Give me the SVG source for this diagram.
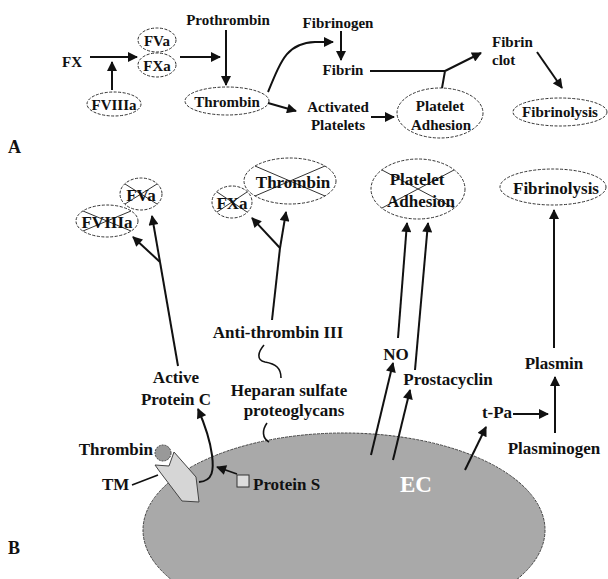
<svg xmlns="http://www.w3.org/2000/svg" width="608" height="579" viewBox="0 0 608 579">
<style>
text{font-family:"Liberation Serif","Times New Roman",serif;font-weight:bold;fill:#111}
.a{font-size:15px}
.b{font-size:17px}
.m{text-anchor:middle}
.ov{fill:#fff;stroke:#333;stroke-width:1;stroke-dasharray:3 1.5}
.x{stroke:#333;stroke-width:1}
.c{fill:none;stroke:#111;stroke-width:2}
.ar{marker-end:url(#ah)}
</style>
<defs>
<marker id="ah" viewBox="0 0 10 10" refX="9" refY="5" markerWidth="11" markerHeight="10" markerUnits="userSpaceOnUse" orient="auto">
<path d="M0,0 L10,5 L0,10 z" fill="#111"/>
</marker>
</defs>
<rect width="608" height="579" fill="#fff"/>

<!-- Panel A nodes -->
<g id="a-fx"><text class="a" x="62" y="67">FX</text></g>
<g id="a-fva"><ellipse class="ov" cx="157" cy="40" rx="19" ry="12"/><text class="a m" x="157" y="46">FVa</text></g>
<g id="a-fxa"><ellipse class="ov" cx="157" cy="65" rx="19" ry="12"/><text class="a m" x="157" y="71">FXa</text></g>
<g id="a-fviiia"><ellipse class="ov" cx="114" cy="104" rx="27" ry="12"/><text class="a m" x="114" y="110">FVIIIa</text></g>
<g id="a-prothrombin"><text class="a m" x="228" y="25">Prothrombin</text></g>
<g id="a-thrombin"><ellipse class="ov" cx="227" cy="101" rx="42" ry="14"/><text class="a m" x="227" y="107">Thrombin</text></g>
<g id="a-fibrinogen"><text class="a m" x="338" y="28">Fibrinogen</text></g>
<g id="a-fibrin"><text class="a m" x="343" y="75">Fibrin</text></g>
<g id="a-activated"><text class="a m" x="338" y="112">Activated</text><text class="a m" x="338" y="130">Platelets</text></g>
<g id="a-platelet"><ellipse class="ov" cx="440" cy="113" rx="43" ry="25"/><text class="a m" x="440" y="111">Platelet</text><text class="a m" x="441" y="130">Adhesion</text></g>
<g id="a-clot"><text class="a" x="492" y="47">Fibrin</text><text class="a" x="492" y="65">clot</text></g>
<g id="a-fibrinolysis"><ellipse class="ov" cx="560" cy="112" rx="47" ry="14"/><text class="a m" x="560" y="117">Fibrinolysis</text></g>
<text x="8" y="153" style="font-size:18px">A</text>

<!-- Panel B: EC cell -->
<g id="b-ec">
<ellipse cx="344" cy="530" rx="201" ry="97" fill="#a9a9a9" stroke="#444" stroke-width="1" stroke-dasharray="3 1"/>
<text x="416" y="492" class="m" style="font-size:23px;fill:#fff">EC</text>
</g>

<!-- Panel B nodes -->
<g id="b-fva"><ellipse class="ov" cx="141" cy="194" rx="21" ry="16"/><line class="x" x1="125" y1="184" x2="157" y2="204"/><line class="x" x1="125" y1="204" x2="157" y2="184"/><text class="b m" x="141" y="201">FVa</text></g>
<g id="b-fviiia"><ellipse class="ov" cx="107" cy="221" rx="31" ry="16"/><line class="x" x1="83" y1="211" x2="131" y2="231"/><line class="x" x1="83" y1="231" x2="131" y2="211"/><text class="b m" x="107" y="228">FVIIIa</text></g>
<g id="b-fxa"><ellipse class="ov" cx="232" cy="202" rx="20" ry="16"/><line class="x" x1="217" y1="192" x2="247" y2="212"/><line class="x" x1="217" y1="212" x2="247" y2="192"/><text class="b m" x="232" y="209">FXa</text></g>
<g id="b-thrombin"><ellipse class="ov" cx="290" cy="181" rx="46" ry="23"/><line class="x" x1="255" y1="166" x2="325" y2="196"/><line class="x" x1="255" y1="196" x2="325" y2="166"/><text class="b m" x="293" y="188">Thrombin</text></g>
<g id="b-platelet"><ellipse class="ov" cx="418" cy="189" rx="47" ry="30"/><line class="x" x1="382" y1="170" x2="454" y2="208"/><line class="x" x1="382" y1="208" x2="454" y2="170"/><text class="b m" x="417" y="185">Platelet</text><text class="b m" x="421" y="207">Adhesion</text></g>
<g id="b-fibrinolysis"><ellipse class="ov" cx="553" cy="187" rx="53" ry="18"/><text class="b m" x="556" y="194">Fibrinolysis</text></g>
<g id="b-antithrombin"><text class="b m" x="278" y="338">Anti-thrombin III</text></g>
<g id="b-heparan"><text class="b m" x="289" y="396">Heparan sulfate</text><text class="b m" x="294" y="416">proteoglycans</text></g>
<g id="b-apc"><text class="b m" x="176" y="383">Active</text><text class="b m" x="176" y="405">Protein C</text></g>
<g id="b-no"><text class="b m" x="396" y="360">NO</text></g>
<g id="b-prostacyclin"><text class="b m" x="448" y="385">Prostacyclin</text></g>
<g id="b-tpa"><text class="b m" x="497" y="418">t-Pa</text></g>
<g id="b-plasmin"><text class="b m" x="554" y="369">Plasmin</text></g>
<g id="b-plasminogen"><text class="b m" x="554" y="454">Plasminogen</text></g>
<g id="b-thrombin2"><circle cx="163" cy="453" r="8" fill="#999" stroke="#444" stroke-width="1" stroke-dasharray="2 1"/><text class="b" x="153" y="455" text-anchor="end">Thrombin</text></g>
<g id="b-tm"><polygon points="155,465 169,466 174,452 196,477 199,502 182,501 160,472" fill="#d6d6d6" stroke="#444" stroke-width="1"/><text class="b" x="102" y="490">TM</text></g>
<g id="b-proteins"><rect x="237" y="475" width="12" height="12" fill="#ddd" stroke="#333" stroke-width="1"/><text class="b" x="253" y="490">Protein S</text></g>
<text x="8" y="554" style="font-size:18px">B</text>

<!-- Connectors -->
<g id="connectors">
<path class="c ar" d="M90,57 L137,57"/>
<path class="c ar" d="M112,90 L112,62"/>
<path class="c ar" d="M180,57 L220,57"/>
<path class="c ar" d="M226,30 L226,85"/>
<path class="c ar" d="M268,92 C282,58 288,43 315,42 L333,42"/>
<path class="c ar" d="M268,103 L296,111"/>
<path class="c ar" d="M341,31 L341,60"/>
<path class="c" d="M370,71 L445,71 M442,88 L445,71"/>
<path class="c ar" d="M445,71 L481,53"/>
<path class="c ar" d="M371,117 L394,117"/>
<path class="c ar" d="M537,52 L562,88"/>

<path class="c" d="M178,366 L160,262"/>
<path class="c ar" d="M160,262 L152,216"/>
<path class="c ar" d="M160,262 L133,237"/>
<path class="c" d="M272,320 L280,248"/>
<path class="c ar" d="M280,248 L252,218"/>
<path class="c ar" d="M280,248 L286,212"/>
<path class="c" d="M264,345 C258,352 256,360 265,362 C276,364 281,368 281,378" style="stroke-width:1.6"/>
<path class="c" d="M267,423 C262,430 262,438 269,442" style="stroke-width:1.6"/>
<path class="c ar" d="M199,482 C213,481 214,470 212,455 C210,440 205,425 198,409"/>
<path class="c ar" d="M237,474 L217,467" style="stroke-width:1.6"/>
<path class="c" d="M132,485 L158,475" style="stroke-width:1.6"/>
<path class="c ar" d="M398,338 L407,223"/>
<path class="c ar" d="M415,370 L428,223"/>
<path class="c ar" d="M371,455 L393,363"/>
<path class="c ar" d="M393,460 L410,390"/>
<path class="c ar" d="M465,470 L486,427"/>
<path class="c ar" d="M513,414 L548,414"/>
<path class="c ar" d="M555,433 L555,377"/>
<path class="c ar" d="M554,348 L554,210"/>
</g>
</svg>
